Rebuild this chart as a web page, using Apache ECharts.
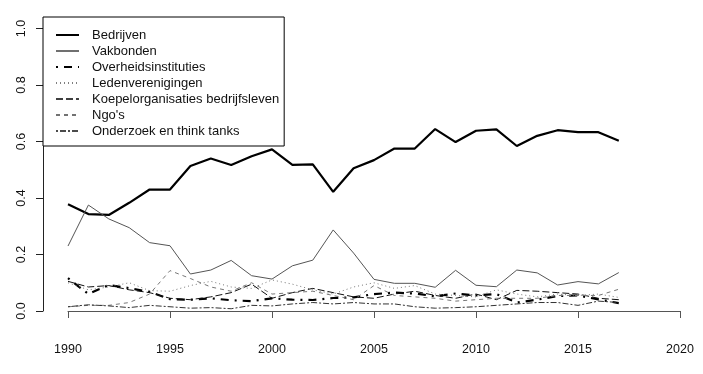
<!DOCTYPE html>
<html>
<head>
<meta charset="utf-8">
<script src="https://cdn.jsdelivr.net/npm/echarts@6/dist/echarts.min.js"></script>
<style>html,body{margin:0;padding:0;background:#fff}#c{width:703px;height:374px}</style>
</head>
<body>
<div id="c"></div>
<script>
const years = [1990,1991,1992,1993,1994,1995,1996,1997,1998,1999,2000,2001,2002,2003,2004,2005,2006,2007,2008,2009,2010,2011,2012,2013,2014,2015,2016,2017];
const bedrijven = [0.378,0.343,0.340,0.383,0.430,0.430,0.513,0.540,0.517,0.548,0.572,0.517,0.519,0.422,0.505,0.534,0.575,0.575,0.644,0.598,0.638,0.643,0.584,0.620,0.640,0.633,0.633,0.603];
const vakbonden = [0.230,0.375,0.326,0.295,0.242,0.231,0.131,0.145,0.179,0.125,0.113,0.160,0.180,0.287,0.205,0.112,0.098,0.098,0.084,0.144,0.091,0.086,0.145,0.135,0.092,0.104,0.096,0.136];
const overheid = [0.116,0.060,0.092,0.081,0.068,0.042,0.040,0.045,0.038,0.035,0.045,0.040,0.039,0.046,0.048,0.060,0.065,0.062,0.052,0.062,0.055,0.060,0.030,0.040,0.053,0.055,0.041,0.028];
const leden = [0.100,0.075,0.085,0.100,0.072,0.070,0.090,0.105,0.085,0.080,0.110,0.095,0.075,0.060,0.085,0.100,0.080,0.090,0.060,0.055,0.050,0.075,0.060,0.050,0.060,0.055,0.060,0.048];
const koepel = [0.105,0.085,0.090,0.075,0.065,0.045,0.040,0.050,0.065,0.095,0.045,0.065,0.080,0.065,0.050,0.045,0.060,0.070,0.055,0.045,0.060,0.040,0.073,0.070,0.065,0.060,0.045,0.040];
const ngos = [0.015,0.020,0.020,0.030,0.060,0.143,0.115,0.085,0.070,0.100,0.060,0.065,0.070,0.055,0.040,0.090,0.055,0.050,0.045,0.035,0.040,0.045,0.045,0.045,0.055,0.055,0.055,0.077];
const onderzoek = [0.015,0.022,0.018,0.012,0.020,0.015,0.010,0.012,0.008,0.020,0.018,0.025,0.030,0.025,0.030,0.025,0.025,0.015,0.010,0.012,0.015,0.020,0.025,0.030,0.030,0.020,0.035,0.030];
const xTicks = [1990,1995,2000,2005,2010,2015,2020];
const yTicks = ['0.0','0.2','0.4','0.6','0.8','1.0'];

const names = ['Bedrijven','Vakbonden','Overheidsinstituties','Ledenverenigingen','Koepelorganisaties bedrijfsleven',"Ngo's",'Onderzoek en think tanks'];
const values = [bedrijven,vakbonden,overheid,leden,koepel,ngos,onderzoek];
const styles = [
  {color:'#000', width:2.2, type:'solid', lc:'#000', lw:2},
  {color:'#555', width:1, type:'solid', lc:'#222', lw:1.3},
  {color:'#000', width:2.2, type:[2,6,8,6], lc:'#000', lw:2},
  {color:'#777', width:1, type:[1,3], lc:'#555', lw:1.3},
  {color:'#111', width:1, type:[7,3], lc:'#000', lw:1.3},
  {color:'#777', width:1, type:[4,4], lc:'#444', lw:1.3},
  {color:'#333', width:1, type:[2,2,6,2], lc:'#111', lw:1.3}
];
const font = 'Liberation Sans, Arial, sans-serif';
const chart = echarts.init(document.getElementById('c'), null, {renderer:'canvas'});
chart.setOption({
  animation:false,
  backgroundColor:'#fff',
  grid:{left:68, right:23, top:28.5, bottom:63, containLabel:false},
  xAxis:{type:'value', min:1990, max:2020, interval:5, offset:21,
    axisLine:{show:true, lineStyle:{color:'#555', width:1}},
    axisTick:{show:true, length:7, lineStyle:{color:'#555'}},
    axisLabel:{color:'#111', fontSize:12.5, fontFamily:font, margin:11,
      formatter:v=> xTicks.includes(v) ? String(v) : ''},
    splitLine:{show:false}},
  yAxis:{type:'value', min:0, max:1, interval:0.2, offset:25,
    axisLine:{show:true, lineStyle:{color:'#222', width:1}},
    axisTick:{show:true, length:7, lineStyle:{color:'#222'}},
    axisLabel:{color:'#111', fontSize:12.5, fontFamily:font, rotate:90, margin:15,
      formatter:v=> yTicks[Math.round(v*5)]},
    splitLine:{show:false}},
  legend:{show:true, orient:'vertical', left:43, top:17,
    data:names.map((n,i)=>({name:n, itemStyle:{opacity:0},
      lineStyle:{color:styles[i].lc, width:styles[i].lw, type:styles[i].type}})),
    padding:[11,5,8,12], itemGap:2, itemWidth:23, itemHeight:14,
    borderColor:'#000', borderWidth:1, backgroundColor:'#fff',
    itemStyle:{opacity:0},
    textStyle:{color:'#111', fontSize:13, fontFamily:font, lineHeight:14, padding:[0,0,0,8]},
    selectedMode:false},
  series: names.map((n,i)=>({
    name:n, type:'line', symbol:'none', silent:true,
    data: years.map((y,j)=>[y, values[i][j]]),
    lineStyle:{color:styles[i].color, width:styles[i].width, type:styles[i].type},
    itemStyle:{color:styles[i].color}
  }))
});
</script>
</body>
</html>
